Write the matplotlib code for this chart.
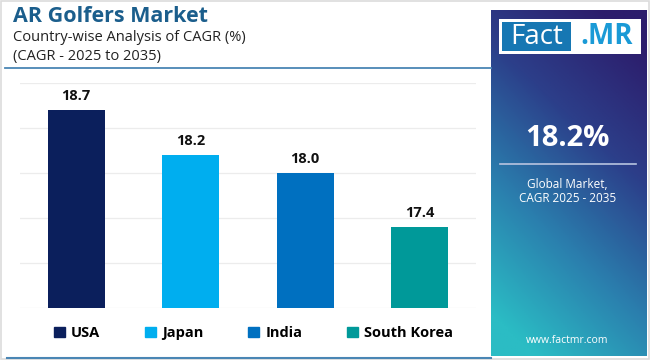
import numpy as np
import matplotlib
matplotlib.use('Agg')
from matplotlib import pyplot as plt
from matplotlib.patches import Rectangle
from matplotlib.colors import LinearSegmentedColormap

plt.rcParams['font.family'] = ['Open Sans', 'DejaVu Sans']

# data
countries = ['USA', 'Japan', 'India', 'South Korea']
cagr = [18.7, 18.2, 18.0, 17.4]
bar_colors = ['#0b1f5c', '#00aeef', '#0070c0', '#009999']
global_cagr = '18.2%'

fig = plt.figure(figsize=(6.5, 3.6), dpi=100)
fig.patch.set_facecolor('white')

# light frame round the whole picture
fig.add_artist(Rectangle((0.002, 0.003), 0.996, 0.994, transform=fig.transFigure,
                         fill=False, edgecolor='#dcdcdc', linewidth=1.2))

# titles
fig.text(0.02, 0.955, 'AR Golfers Market', fontsize=15.5, fontweight='bold',
         color='#1b5e8c', va='center', ha='left')
fig.text(0.02, 0.895, 'Country-wise Analysis of CAGR (%)', fontsize=10.5,
         color='#222222', va='center', ha='left')
fig.text(0.02, 0.842, '(CAGR - 2025 to 2035)', fontsize=10.5,
         color='#222222', va='center', ha='left')
fig.add_artist(plt.Line2D([0.007, 0.755], [0.81, 0.81], transform=fig.transFigure,
                          color='#4a86b4', linewidth=1.3))
fig.add_artist(plt.Line2D([0.01, 0.755], [0.006, 0.006], transform=fig.transFigure,
                          color='#4a86b4', linewidth=1.5))

# bar chart
ax = fig.add_axes([0.031, 0.1444, 0.701, 0.625])
x = np.arange(len(countries))
ax.bar(x, cagr, width=0.5, color=bar_colors, zorder=3)
for xi, v in zip(x, cagr):
    ax.text(xi, v + 0.08, f'{v:.1f}', ha='center', va='bottom', fontsize=10.5,
            fontweight='bold', color='#111111', zorder=4)
ax.set_ylim(16.5, 19.0)
ax.set_xlim(-0.49, 3.49)
ax.set_yticks(np.arange(16.5, 19.01, 0.5))
ax.yaxis.grid(True, color='#ececec', linewidth=0.9, zorder=0)
ax.set_xticks([])
ax.tick_params(left=False, labelleft=False)
for s in ax.spines.values():
    s.set_visible(False)

# legend
handles = [Rectangle((0, 0), 1, 1, color=c) for c in bar_colors]
leg = fig.legend(handles, countries, loc='center', bbox_to_anchor=(0.39, 0.075),
                 ncol=4, frameon=False, handlelength=0.75, handleheight=0.75,
                 handletextpad=0.4, columnspacing=3.1,
                 prop={'weight': 'bold', 'size': 10.5})

# right panel with gradient
pax = fig.add_axes([0.755, 0.011, 0.24, 0.961])
ny, nx = 200, 80
yy, xx = np.mgrid[0:1:ny * 1j, 0:1:nx * 1j]
w = np.clip(0.85 * yy + 0.35 * (1 - xx) - 0.1, 0, 1)
cmap = LinearSegmentedColormap.from_list('panel', ['#2c1d6c', '#2c3f8a', '#2a7fae', '#2bbcc4'])
pax.imshow(w, cmap=cmap, aspect='auto', extent=[0, 1, 1, 0], vmin=0, vmax=1)
pax.set_xlim(0, 1)
pax.set_ylim(1, 0)
pax.axis('off')

# logo
pax.add_patch(Rectangle((0.05, 0.027), 0.91, 0.1, facecolor='white', edgecolor='none'))
pax.add_patch(Rectangle((0.075, 0.035), 0.44, 0.083, facecolor='#1677b3', edgecolor='none'))
pax.text(0.295, 0.077, 'Fact', color='white', fontsize=20, ha='center', va='center')
pax.text(0.745, 0.077, '.MR', color='#1a9ad6', fontsize=20, fontweight='bold',
         ha='center', va='center')

pax.text(0.49, 0.37, global_cagr, color='white', fontsize=21, fontweight='bold',
         ha='center', va='center')
pax.plot([0.06, 0.93], [0.445, 0.445], color='#b8c4e0', linewidth=1.2)
pax.text(0.49, 0.505, 'Global Market,', color='white', fontsize=8.5, ha='center', va='center')
pax.text(0.49, 0.545, 'CAGR 2025 - 2035', color='white', fontsize=8.5, ha='center', va='center')
pax.text(0.49, 0.955, 'www.factmr.com', color='white', fontsize=7.5, ha='center', va='center')

fig.savefig('out.png', dpi=100)
